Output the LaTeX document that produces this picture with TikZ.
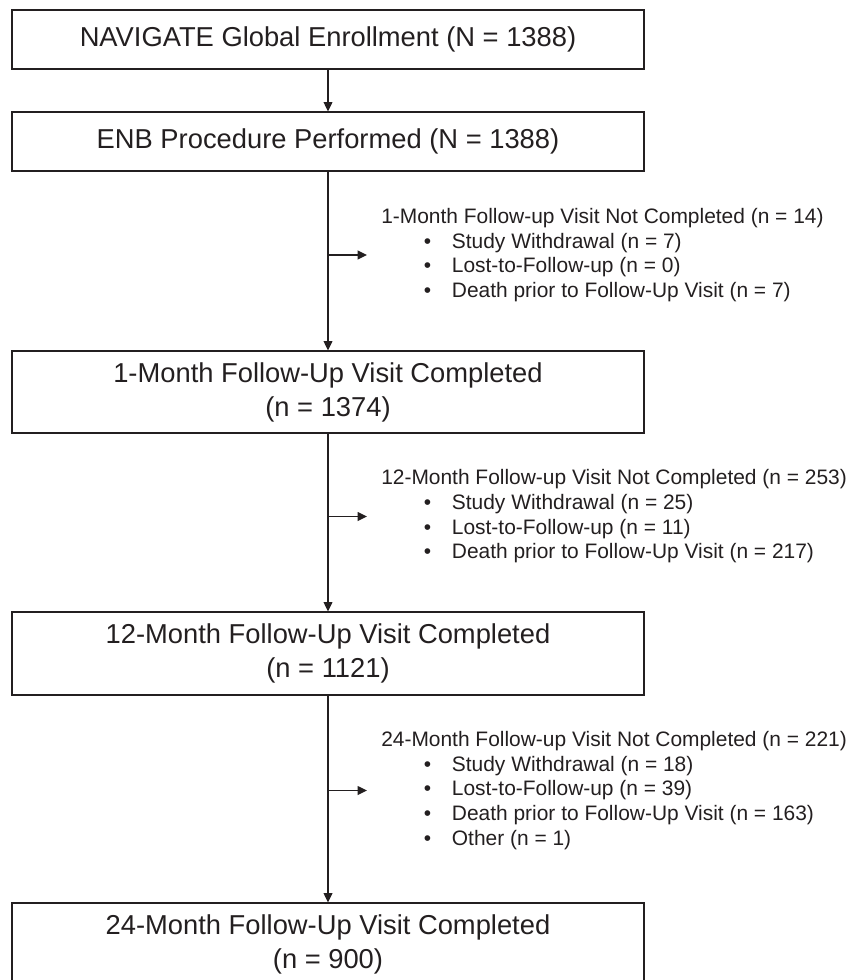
\documentclass[tikz,border=0pt]{standalone}
\usepackage{fontspec}
\setmainfont{Liberation Sans}
\usetikzlibrary{arrows.meta}
\definecolor{ink}{HTML}{231F20}
\newcommand\blt[1]{\hspace*{32pt}\makebox[21pt][l]{•}#1}
\begin{document}
\begin{tikzpicture}[x=0.75pt,y=-0.75pt,
  box/.style={draw=ink, line width=0.8pt, minimum width=474pt, inner sep=0pt,
    align=center, font=\fontsize{20.5}{25.5}\selectfont, text=ink},
  side/.style={anchor=west, inner sep=0pt, align=left,
    font=\fontsize{15.7}{18.5}\selectfont, text=ink},
  flow/.style={draw=ink, line width=1.1pt, -{Triangle[length=7pt,width=6.5pt]}},
  branch/.style={flow, shorten >=10.5pt},
]
\useasboundingbox (0,0) rectangle (848,980);

\node[box, minimum height=44.25pt] (b1) at (328,39.5) {NAVIGATE Global Enrollment (N = 1388)};
\node[box, minimum height=44.25pt] (b2) at (328,141.5) {ENB Procedure Performed (N = 1388)};
\node[box, minimum height=61.5pt] (b3) at (328,392) {1-Month Follow-Up Visit Completed\\(n = 1374)};
\node[box, minimum height=62.25pt] (b4) at (328,653.5) {12-Month Follow-Up Visit Completed\\(n = 1121)};
\node[box, minimum height=62.25pt] (b5) at (328,944.5) {24-Month Follow-Up Visit Completed\\(n = 900)};

\node[side] (t1) at (381,255) {1-Month Follow-up Visit Not Completed (n = 14)\\
  \blt{Study Withdrawal (n = 7)}\\
  \blt{Lost-to-Follow-up (n = 0)}\\
  \blt{Death prior to Follow-Up Visit (n = 7)}};
\node[side] (t2) at (381,516.5) {12-Month Follow-up Visit Not Completed (n = 253)\\
  \blt{Study Withdrawal (n = 25)}\\
  \blt{Lost-to-Follow-up (n = 11)}\\
  \blt{Death prior to Follow-Up Visit (n = 217)}};
\node[side] (t3) at (381,790.5) {24-Month Follow-up Visit Not Completed (n = 221)\\
  \blt{Study Withdrawal (n = 18)}\\
  \blt{Lost-to-Follow-up (n = 39)}\\
  \blt{Death prior to Follow-Up Visit (n = 163)}\\
  \blt{Other (n = 1)}};

\coordinate (j1) at (b2.south |- t1.west);
\coordinate (j2) at (b3.south |- t2.west);
\coordinate (j3) at (b4.south |- t3.west);

\draw[flow] (b1) -- (b2);
\draw[flow] (b2) -- (b3);
\draw[flow] (b3) -- (b4);
\draw[flow] (b4) -- (b5);
\draw[branch] (j1) -- (t1.west);
\draw[branch] (j2) -- (t2.west);
\draw[branch] (j3) -- (t3.west);
\end{tikzpicture}
\end{document}
